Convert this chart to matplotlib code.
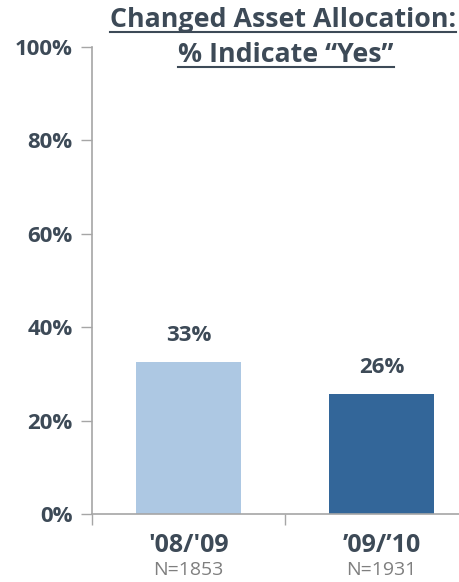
import matplotlib.pyplot as plt
from matplotlib.lines import Line2D

plt.rcParams['font.family'] = ['Open Sans', 'DejaVu Sans']

categories = ["'08/'09", "\u201909/\u201910"]
sample_sizes = ['N=1853', 'N=1931']
values = [32.6, 25.8]
labels = ['33%', '26%']
colors = ['#adc8e3', '#336699']
yticks = [0, 20, 40, 60, 80, 100]

text_color = '#3d4a57'
axis_color = '#a6a6a6'

fig = plt.figure(figsize=(4.6, 5.82), dpi=100)
ax = fig.add_axes([92 / 460, 68 / 582, 386 / 460, 467 / 582])

x = range(len(categories))
ax.bar(x, values, width=0.54, color=colors)
for i, v in enumerate(values):
    ax.annotate(labels[i], (i, v), xytext=(0, 19), textcoords='offset points',
                ha='center', va='center', fontsize=16, fontweight='bold',
                color=text_color)

ax.set_xlim(-0.5, 1.5)
ax.set_ylim(0, 100)
ax.set_yticks(yticks)
ax.set_yticklabels(['{}%'.format(t) for t in yticks])
ax.set_xticks([-0.5, 0.5, 1.5])
ax.set_xticklabels([])
ax.tick_params(axis='y', length=8, width=1, color=axis_color, pad=6,
               labelsize=16, labelcolor=text_color)
for lab in ax.get_yticklabels():
    lab.set_fontweight('bold')
ax.tick_params(axis='x', length=8, width=1, color=axis_color)

for s in ['top', 'right']:
    ax.spines[s].set_visible(False)
for s in ['left', 'bottom']:
    ax.spines[s].set_color(axis_color)
    ax.spines[s].set_linewidth(1.2)

for i, c in enumerate(categories):
    ax.annotate(c, (i, 0), xycoords=('data', 'axes fraction'),
                xytext=(0, -23), textcoords='offset points',
                ha='center', va='center', fontsize=18, fontweight='bold',
                color=text_color, annotation_clip=False)
    ax.annotate(sample_sizes[i], (i, 0), xycoords=('data', 'axes fraction'),
                xytext=(0, -40.5), textcoords='offset points',
                ha='center', va='center', fontsize=14, color='#7f7f7f',
                annotation_clip=False)

# title with underlines
t1 = fig.text(283 / 460, 1 - 20 / 582, 'Changed Asset Allocation:', ha='center',
              va='center', fontsize=19.3, fontweight='bold', color=text_color)
t2 = fig.text(286 / 460, 1 - 55 / 582, '% Indicate \u201cYes\u201d', ha='center',
              va='center', fontsize=19.3, fontweight='bold', color=text_color)
fig.canvas.draw()
r = fig.canvas.get_renderer()
for t in [t1, t2]:
    bb = t.get_window_extent(r)
    yy = (bb.y0 + 1) / fig.bbox.height
    fig.add_artist(Line2D([bb.x0 / fig.bbox.width, bb.x1 / fig.bbox.width], [yy, yy],
                          color=text_color, lw=1.5))

fig.savefig('out.png', dpi=100)
